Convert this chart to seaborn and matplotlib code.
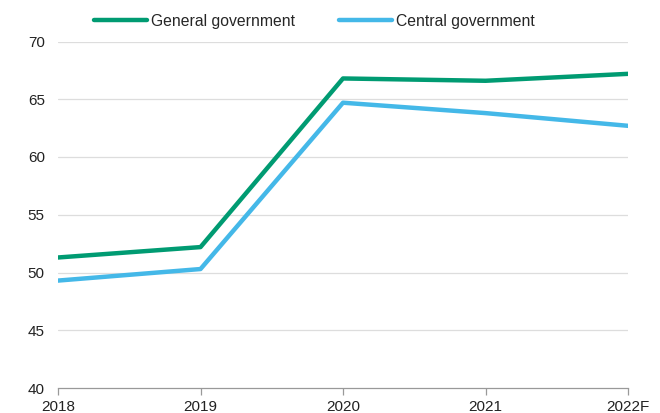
import matplotlib
matplotlib.use("Agg")
import matplotlib.pyplot as plt
import seaborn as sns
import pandas as pd

years = ["2018", "2019", "2020", "2021", "2022F"]
general = [51.3, 52.2, 66.8, 66.6, 67.2]
central = [49.3, 50.3, 64.7, 63.8, 62.7]
series_names = ["General government", "Central government"]
colors = ["#009B72", "#44B8E8"]

sns.set_theme(style="white")
plt.rcParams['font.family'] = ['Liberation Sans', 'DejaVu Sans']

df = pd.DataFrame({
    "x": list(range(len(years))) * 2,
    "value": general + central,
    "series": [series_names[0]] * len(years) + [series_names[1]] * len(years),
})

fig = plt.figure(figsize=(6.6, 4.13), dpi=100)
ax = fig.add_axes([58/660, 1 - 388/413, (628-58)/660, (388-41.5)/413])

sns.lineplot(data=df, x="x", y="value", hue="series", palette=colors,
             linewidth=3.2, ax=ax, legend=True)

ax.set_xlim(0, len(years) - 1)
ax.set_ylim(40, 70)
ax.set_yticks([40, 45, 50, 55, 60, 65, 70])
ax.set_xticks(range(len(years)))
ax.set_xticklabels(years)
ax.set_xlabel("")
ax.set_ylabel("")
for y in [45, 50, 55, 60, 65, 70]:
    ax.axhline(y, color="#DDDDDD", linewidth=0.9, zorder=0)

for s in ["top", "right", "left"]:
    ax.spines[s].set_visible(False)
ax.spines["bottom"].set_color("#999999")
ax.spines["bottom"].set_linewidth(0.9)
ax.tick_params(axis="x", which="both", bottom=True, length=5, color="#999999",
               width=0.9, labelsize=11, pad=3.8, colors="#999999", labelcolor="#222222")
ax.tick_params(axis="y", left=False, length=0, labelsize=11, pad=9.5, labelcolor="#222222")

leg = ax.legend(loc="lower center", bbox_to_anchor=(0.45, 1.0), ncol=2, frameon=False,
                fontsize=11.3, handlelength=3.4, handletextpad=0.25, columnspacing=2.8,
                borderaxespad=0.4)

fig.savefig("out.png", dpi=100)
